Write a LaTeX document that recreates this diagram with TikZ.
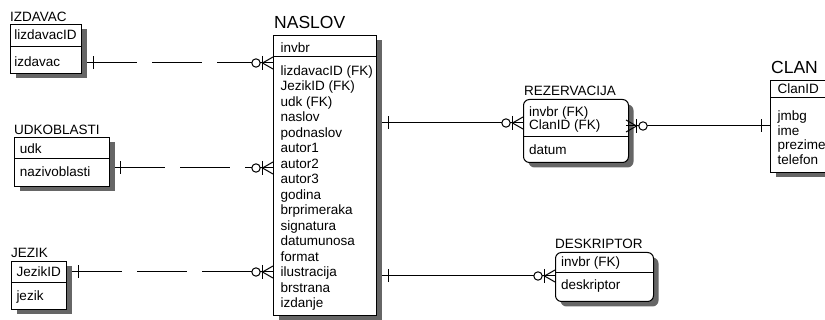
\documentclass[tikz,border=0pt]{standalone}
\usepackage{fontspec}
\setmainfont{Liberation Sans}
\usetikzlibrary{shadows,positioning,calc}
\tikzset{
  ent/.style={draw,line width=1pt,fill=white,anchor=north west,inner sep=0pt,
              drop shadow={shadow xshift=5pt,shadow yshift=-5pt,opacity=1,fill=black!60}},
  dent/.style={ent,rounded corners=6pt},
  etext/.style={font=\fontsize{13.5}{15.5}\selectfont,inner sep=0pt,anchor=base west},
  etitle/.style={etext},
  btitle/.style={etext,font=\fontsize{17.5}{20}\selectfont},
  conn/.style={line width=1pt},
  nonid/.style={conn,dash pattern=on 50pt off 15pt},
}
% zero-or-many end: #1 = point on the box edge, #2 = 1 (box right) or -1 (box left)
\newcommand{\zmany}[2]{%
  \begin{scope}[shift={#1},xscale=#2]
    \draw[conn,fill=white] (-17,0) circle[radius=4.2];
    \draw[conn] (-12.8,0) -- (0,0);
    \draw[conn] (-10.5,-7) -- (-10.5,7);
    \draw[conn] (0,-6) -- (-10.5,0) -- (0,6);
  \end{scope}}
% exactly-one bar
\newcommand{\onebar}[1]{\draw[conn] #1 ++(0,-6.5) -- ++(0,13);}

\begin{document}
\begin{tikzpicture}[x=1pt,y=-1pt]
  \useasboundingbox (0,0) rectangle (825,320);
  \fill[white] (0,0) rectangle (825,320);

  % entities
  \node[ent,minimum width=71,minimum height=49] (izdavac) at (10,24) {};
  \node[ent,minimum width=95,minimum height=49] (udkoblasti) at (14,137) {};
  \node[ent,minimum width=55,minimum height=48] (jezik) at (11,261) {};
  \node[ent,minimum width=103,minimum height=280] (naslov) at (273,35) {};
  \node[dent,minimum width=105,minimum height=63] (rezervacija) at (523,99) {};
  \node[ent,minimum width=70,minimum height=92] (clan) at (770,80) {};
  \node[dent,minimum width=98,minimum height=49] (deskriptor) at (555,252) {};

  % key / attribute dividers
  \draw[conn] ([yshift=-23pt]izdavac.north west) -- ([yshift=-23pt]izdavac.north east);
  \draw[conn] ([yshift=-22pt]udkoblasti.north west) -- ([yshift=-22pt]udkoblasti.north east);
  \draw[conn] ([yshift=-22pt]jezik.north west) -- ([yshift=-22pt]jezik.north east);
  \draw[conn] ([yshift=-22pt]naslov.north west) -- ([yshift=-22pt]naslov.north east);
  \draw[conn] ([yshift=-38pt]rezervacija.north west) -- ([yshift=-38pt]rezervacija.north east);
  \draw[conn] ([yshift=-18pt]clan.north west) -- ([yshift=-18pt]clan.north east);
  \draw[conn] ([yshift=-21pt]deskriptor.north west) -- ([yshift=-21pt]deskriptor.north east);

  % titles
  \node[etitle] (izdavac-t) at ([yshift=2pt]izdavac.north west) {IZDAVAC};
  \node[etitle] (udkoblasti-t) at ([yshift=2pt]udkoblasti.north west) {UDKOBLASTI};
  \node[etitle] (jezik-t) at ([yshift=3pt]jezik.north west) {JEZIK};
  \node[btitle] (naslov-t) at ([xshift=1pt,yshift=6pt]naslov.north west) {NASLOV};
  \node[etitle] (rezervacija-t) at ([xshift=1pt,yshift=3pt]rezervacija.north west) {REZERVACIJA};
  \node[btitle] (clan-t) at ([xshift=1pt,yshift=6pt]clan.north west) {CLAN};
  \node[etitle] (deskriptor-t) at ([yshift=3pt]deskriptor.north west) {DESKRIPTOR};

  % keys and attributes
  \node[etext] (izdavac-k) at (14.2,40) {lizdavacID};
  \node[etext] (izdavac-a) at (14.2,66.5) {izdavac};
  \node[etext] (udkoblasti-k) at (19.7,154) {udk};
  \node[etext] (udkoblasti-a) at (19.7,176.5) {nazivoblasti};
  \node[etext] (jezik-k) at (16.3,277) {JezikID};
  \node[etext] (jezik-a) at (16.3,301) {jezik};
  \node[etext] (naslov-k) at (280.5,52.5) {invbr};
  \foreach \a [count=\i from 0] in {lizdavacID (FK),JezikID (FK),udk (FK),naslov,
      podnaslov,autor1,autor2,autor3,godina,brprimeraka,signatura,datumunosa,
      format,ilustracija,brstrana,izdanje}
    \node[etext] (naslov-a\i) at (280.5,{75.5+15.5*\i}) {\a};
  \node[etext] (rezervacija-k1) at (529,116.5) {invbr (FK)};
  \node[etext] (rezervacija-k2) at (529,130) {ClanID (FK)};
  \node[etext] (rezervacija-a) at (529,155) {datum};
  \node[etext] (clan-k) at (777.3,93.5) {ClanID};
  \foreach \a [count=\i from 0] in {jmbg,ime,prezime,telefon}
    \node[etext] (clan-a\i) at (777.3,{121+14.5*\i}) {\a};
  \node[etext] (deskriptor-k) at (560.8,266.5) {invbr (FK)};
  \node[etext] (deskriptor-a) at (560.8,290) {deskriptor};

  % relationship rows
  \coordinate (r1) at (0,63);
  \coordinate (r2) at (0,168);
  \coordinate (r3) at (0,272);
  \coordinate (r4) at (0,123);
  \coordinate (r5) at (0,126);
  \coordinate (r6) at (0,276);

  % IZDAVAC, UDKOBLASTI, JEZIK -> NASLOV
  \draw[nonid] ($(izdavac.east |- r1)+(5,0)$) -- ($(naslov.west |- r1)+(-21.2,0)$);
  \onebar{($(izdavac.east |- r1)+(11,0)$)}
  \zmany{(naslov.west |- r1)}{1}
  \draw[nonid] ($(udkoblasti.east |- r2)+(5,0)$) -- ($(naslov.west |- r2)+(-21.2,0)$);
  \onebar{($(udkoblasti.east |- r2)+(10,0)$)}
  \zmany{(naslov.west |- r2)}{1}
  \draw[nonid] ($(jezik.east |- r3)+(5,0)$) -- ($(naslov.west |- r3)+(-21.2,0)$);
  \onebar{($(jezik.east |- r3)+(11,0)$)}
  \zmany{(naslov.west |- r3)}{1}

  % NASLOV -> REZERVACIJA, DESKRIPTOR
  \draw[conn] ($(naslov.east |- r4)+(5,0)$) -- ($(rezervacija.west |- r4)+(-21.2,0)$);
  \onebar{($(naslov.east |- r4)+(11,0)$)}
  \zmany{(rezervacija.west |- r4)}{1}
  \draw[conn] ($(naslov.east |- r6)+(5,0)$) -- ($(deskriptor.west |- r6)+(-21.2,0)$);
  \onebar{($(naslov.east |- r6)+(11,0)$)}
  \zmany{(deskriptor.west |- r6)}{1}

  % CLAN -> REZERVACIJA
  \draw[conn] ($(rezervacija.east |- r5)+(18.2,0)$) -- (clan.west |- r5);
  \onebar{($(clan.west |- r5)+(-9,0)$)}
  \zmany{($(rezervacija.east |- r5)+(-3,0)$)}{-1}
\end{tikzpicture}
\end{document}
